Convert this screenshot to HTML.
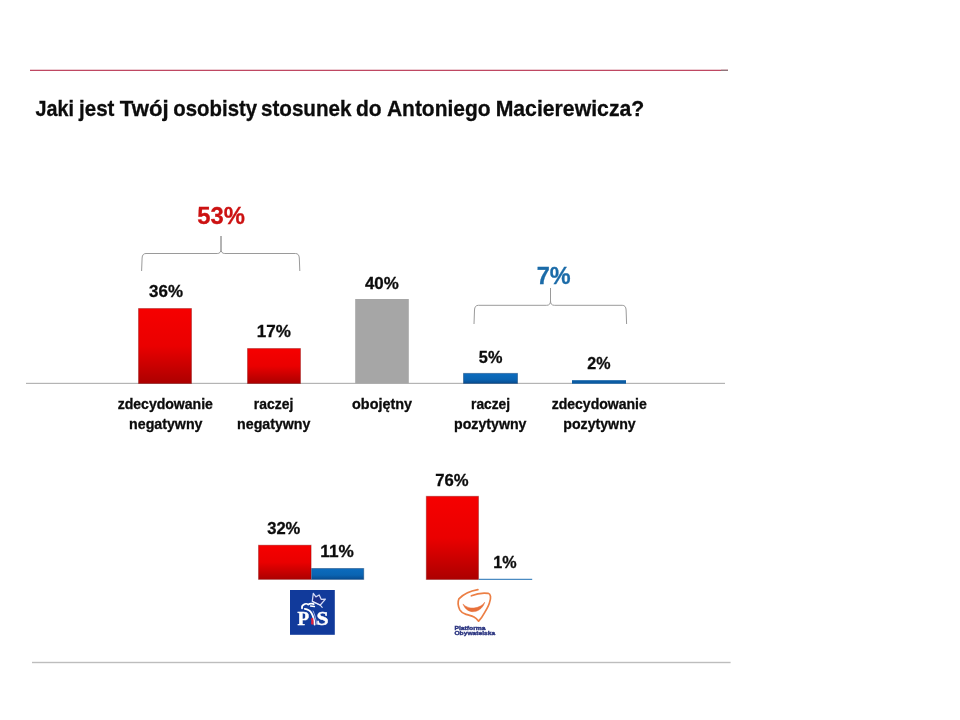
<!DOCTYPE html>
<html lang="pl">
<head>
<meta charset="utf-8">
<title>Jaki jest Twój osobisty stosunek do Antoniego Macierewicza?</title>
<style>
html,body{margin:0;padding:0;background:#fff;}
body{width:960px;height:720px;overflow:hidden;position:relative;font-family:"Liberation Sans",sans-serif;}
svg{position:absolute;left:0;top:0;display:block;}
text{font-family:"Liberation Sans",sans-serif;font-weight:bold;}
</style>
</head>
<body>
<svg width="960" height="720" viewBox="0 0 960 720">
<defs>
<linearGradient id="gr" x1="0" y1="0" x2="0" y2="1">
<stop offset="0" stop-color="#f60000"/><stop offset="0.5" stop-color="#ea0000"/><stop offset="1" stop-color="#ac0000"/>
</linearGradient>
<linearGradient id="gb" x1="0" y1="0" x2="0" y2="1">
<stop offset="0" stop-color="#0c6cbe"/><stop offset="0.6" stop-color="#0a64b2"/><stop offset="1" stop-color="#084c90"/>
</linearGradient>
</defs>
<!-- top rule -->
<rect x="30" y="69.75" width="698" height="1.15" fill="#b93552"/>
<rect x="721" y="69.75" width="7" height="1.15" fill="#8a7a7e"/>
<!-- axis -->
<rect x="26" y="382.8" width="699" height="1.2" fill="#b4b4b4"/>
<!-- main bars -->
<g stroke="#7a0000" stroke-opacity="0.35" stroke-width="1">
<rect x="138.5" y="308.5" width="53" height="75" fill="url(#gr)"/>
<rect x="247.5" y="348.5" width="53" height="35" fill="url(#gr)"/>
</g>
<rect x="355.2" y="299" width="53.6" height="84.4" fill="#a6a6a6"/>
<g stroke="#063a70" stroke-opacity="0.45" stroke-width="1">
<rect x="463.5" y="373.4" width="54" height="10" fill="url(#gb)"/>
</g>
<rect x="572" y="380.2" width="54" height="3.5" fill="#0b5ca4"/>
<!-- braces -->
<g fill="none" stroke="#9a9a9a" stroke-width="1">
<path d="M141.6 271 L142.1 258 Q142.3 253.5 146 253.5 H217.2 Q221 253.5 221 249 V236 V249 Q221 253.5 224.8 253.5 H295.4 Q299.1 253.5 299.3 258 L299.8 271"/>
<path d="M474 324 L474.5 310 Q474.7 305.3 478.4 305.3 H546.7 Q550.5 305.3 550.5 301 V288 V301 Q550.5 305.3 554.3 305.3 H622.2 Q625.9 305.3 626.1 310 L626.6 324"/>
</g>
<!-- PiS mini chart -->
<rect x="258.5" y="545.2" width="52.6" height="34.2" fill="url(#gr)" stroke="#7a0000" stroke-opacity="0.35" stroke-width="1"/>
<rect x="311.6" y="568.5" width="52.1" height="10.9" fill="url(#gb)" stroke="#063a70" stroke-opacity="0.45" stroke-width="1"/>
<!-- PO mini chart -->
<rect x="426.3" y="496.3" width="52.2" height="83.2" fill="url(#gr)" stroke="#7a0000" stroke-opacity="0.35" stroke-width="1"/>
<rect x="478.8" y="578.8" width="53.4" height="1" fill="#1f6fb4"/>
<!-- bottom rule -->
<rect x="32" y="661.8" width="698.6" height="1.4" fill="#bdbdbd"/>

<!-- title -->
<text y="116.4" font-size="21.6" fill="#0c0c0c" stroke="#0c0c0c" stroke-width="0.3"><tspan x="35.61" textLength="38.46" lengthAdjust="spacingAndGlyphs">Jaki</tspan> <tspan x="79.08" textLength="35.36" lengthAdjust="spacingAndGlyphs">jest</tspan> <tspan x="119.81" textLength="48.83" lengthAdjust="spacingAndGlyphs">Twój</tspan> <tspan x="173.35" textLength="83.73" lengthAdjust="spacingAndGlyphs">osobisty</tspan> <tspan x="260.91" textLength="90.67" lengthAdjust="spacingAndGlyphs">stosunek</tspan> <tspan x="355.97" textLength="25.70" lengthAdjust="spacingAndGlyphs">do</tspan> <tspan x="386.93" textLength="103.71" lengthAdjust="spacingAndGlyphs">Antoniego</tspan> <tspan x="495.63" textLength="148.65" lengthAdjust="spacingAndGlyphs">Macierewicza?</tspan></text>
<!-- value labels -->
<text x="149.08" y="297" font-size="16.6" textLength="33.88" lengthAdjust="spacingAndGlyphs" fill="#0c0c0c" stroke="#0c0c0c" stroke-width="0.3">36%</text>
<text x="256.79" y="337" font-size="16.6" textLength="34.10" lengthAdjust="spacingAndGlyphs" fill="#0c0c0c" stroke="#0c0c0c" stroke-width="0.3">17%</text>
<text x="364.94" y="288.75" font-size="16.6" textLength="33.84" lengthAdjust="spacingAndGlyphs" fill="#0c0c0c" stroke="#0c0c0c" stroke-width="0.3">40%</text>
<text x="478.86" y="362.5" font-size="16.6" textLength="23.51" lengthAdjust="spacingAndGlyphs" fill="#0c0c0c" stroke="#0c0c0c" stroke-width="0.3">5%</text>
<text x="587.25" y="368.5" font-size="16.6" textLength="23.23" lengthAdjust="spacingAndGlyphs" fill="#0c0c0c" stroke="#0c0c0c" stroke-width="0.3">2%</text>
<text x="267.20" y="534" font-size="16.6" textLength="33.16" lengthAdjust="spacingAndGlyphs" fill="#0c0c0c" stroke="#0c0c0c" stroke-width="0.3">32%</text>
<text x="320.30" y="557" font-size="16.6" textLength="33.48" lengthAdjust="spacingAndGlyphs" fill="#0c0c0c" stroke="#0c0c0c" stroke-width="0.3">11%</text>
<text x="435.22" y="485.8" font-size="16.6" textLength="33.35" lengthAdjust="spacingAndGlyphs" fill="#0c0c0c" stroke="#0c0c0c" stroke-width="0.3">76%</text>
<text x="493.16" y="567.5" font-size="16.6" textLength="23.34" lengthAdjust="spacingAndGlyphs" fill="#0c0c0c" stroke="#0c0c0c" stroke-width="0.3">1%</text>
<!-- totals -->
<text x="197.21" y="223.9" font-size="24.8" textLength="47.70" lengthAdjust="spacingAndGlyphs" fill="#cc1212" stroke="#cc1212" stroke-width="0.3">53%</text>
<text x="536.63" y="283.5" font-size="24.4" textLength="33.90" lengthAdjust="spacingAndGlyphs" fill="#1b6ba8" stroke="#1b6ba8" stroke-width="0.3">7%</text>
<!-- category labels -->
<text x="117.67" y="408.6" font-size="13.8" textLength="95.25" lengthAdjust="spacingAndGlyphs" fill="#0c0c0c" stroke="#0c0c0c" stroke-width="0.3">zdecydowanie</text>
<text x="129.05" y="428.7" font-size="13.8" textLength="73.49" lengthAdjust="spacingAndGlyphs" fill="#0c0c0c" stroke="#0c0c0c" stroke-width="0.3">negatywny</text>
<text x="253.86" y="408.6" font-size="13.8" textLength="39.39" lengthAdjust="spacingAndGlyphs" fill="#0c0c0c" stroke="#0c0c0c" stroke-width="0.3">raczej</text>
<text x="237.10" y="428.7" font-size="13.8" textLength="73.33" lengthAdjust="spacingAndGlyphs" fill="#0c0c0c" stroke="#0c0c0c" stroke-width="0.3">negatywny</text>
<text x="352.07" y="408.6" font-size="13.8" textLength="60.03" lengthAdjust="spacingAndGlyphs" fill="#0c0c0c" stroke="#0c0c0c" stroke-width="0.3">obojętny</text>
<text x="471.03" y="408.6" font-size="13.8" textLength="39.06" lengthAdjust="spacingAndGlyphs" fill="#0c0c0c" stroke="#0c0c0c" stroke-width="0.3">raczej</text>
<text x="454.06" y="428.7" font-size="13.8" textLength="72.41" lengthAdjust="spacingAndGlyphs" fill="#0c0c0c" stroke="#0c0c0c" stroke-width="0.3">pozytywny</text>
<text x="551.68" y="408.6" font-size="13.8" textLength="95.16" lengthAdjust="spacingAndGlyphs" fill="#0c0c0c" stroke="#0c0c0c" stroke-width="0.3">zdecydowanie</text>
<text x="563.30" y="428.7" font-size="13.8" textLength="72.35" lengthAdjust="spacingAndGlyphs" fill="#0c0c0c" stroke="#0c0c0c" stroke-width="0.3">pozytywny</text>
<!-- PiS logo -->
<g role="img" aria-label="PiS"><title>PiS</title>
<rect x="290" y="590" width="44.8" height="44.8" fill="#113a9b"/>
<g transform="translate(290,590)" fill="none" stroke="#fff" stroke-linecap="round" stroke-linejoin="round">
<path d="M22.3 11.2 L23.3 3.3 L25.9 6.9 L29.2 5 L31.3 9.4 L35.4 9.1 L30.3 15 Z" stroke="#d3daf6" stroke-width="1.25" fill="#1b2f8a"/>
<path d="M22.4 11.6 L30.2 15.2 L32.2 17.4" stroke="#e4e8fa" stroke-width="1.1"/>
<path d="M12 18.3 C11.6 16.2 12.8 14.8 14.6 14.1 C16 13.5 17.4 13.9 18.2 14.7 C19 13.9 20.6 13.5 22 13.7 L23.8 14.1" stroke-width="1.7"/>
<path d="M20.6 16 L24.4 16.6" stroke-width="1.5"/>
<path d="M14.8 18.9 C17.6 19.2 20 20.6 21.6 23.2 C23.2 26 24.2 30 24.6 34.6" stroke-width="1.8"/>
<path d="M23.1 21 C24.8 24.5 26 29.5 26.8 34.4" stroke="#aebcf0" stroke-width="0.9"/>
<path d="M22 28.2 C22.6 30.2 22.6 32.6 22.2 34.6" stroke="#e2203c" stroke-width="2.3" stroke-linecap="butt"/>
</g>
</g>
<!-- PO logo -->
<g role="img" aria-label="Platforma Obywatelska" fill="none" stroke-linecap="round" stroke-linejoin="round">
<path d="M477.9 589.6 C470 591 463 594.5 458.9 598.8 C457.6 602 458.2 606.5 459.8 609.8 C461.4 612.6 463.5 613.6 466 614.4 C469 615.3 472 615.8 474 616.9 C476 618 477.4 619.6 478.6 621.2 C481 618.6 483 615.6 484.6 612.6 C486.8 609 488.6 606 489.4 603 C490.4 600.4 490.8 598.4 490.5 596.4 C490.2 594.6 489.4 593.6 488.2 593.3 C483 592.6 476 593.8 471.4 595.8" stroke="#ec7f45" stroke-width="1.7"/>
<path d="M463.2 604.4 C466 607 470 608.4 474 608 C479 607.4 482.6 605.4 484.7 602.2 C483.4 607 479.6 610.8 474.4 611.6 C469.4 612.2 465 609.4 463.2 604.4 Z" fill="#e8703a" stroke="#e8703a" stroke-width="0.5"/>
</g>

<text x="297.39" y="625.2" font-size="19.8" textLength="11.53" lengthAdjust="spacingAndGlyphs" fill="#fff" stroke="#fff" stroke-width="0.5" style="font-family:'Liberation Serif',serif">P</text>
<text x="316.57" y="625.4" font-size="19.8" textLength="12.03" lengthAdjust="spacingAndGlyphs" fill="#fff" stroke="#fff" stroke-width="0.5" style="font-family:'Liberation Serif',serif">S</text>
<!-- PO wordmark -->
<text x="454.49" y="629.9" font-size="5.1" textLength="31.11" lengthAdjust="spacingAndGlyphs" fill="#2b3580" stroke="#2b3580" stroke-width="0.35">Platforma</text>
<text x="454.44" y="635.1" font-size="5.1" textLength="40.70" lengthAdjust="spacingAndGlyphs" fill="#2b3580" stroke="#2b3580" stroke-width="0.35">Obywatelska</text>
</svg>
</body>
</html>
